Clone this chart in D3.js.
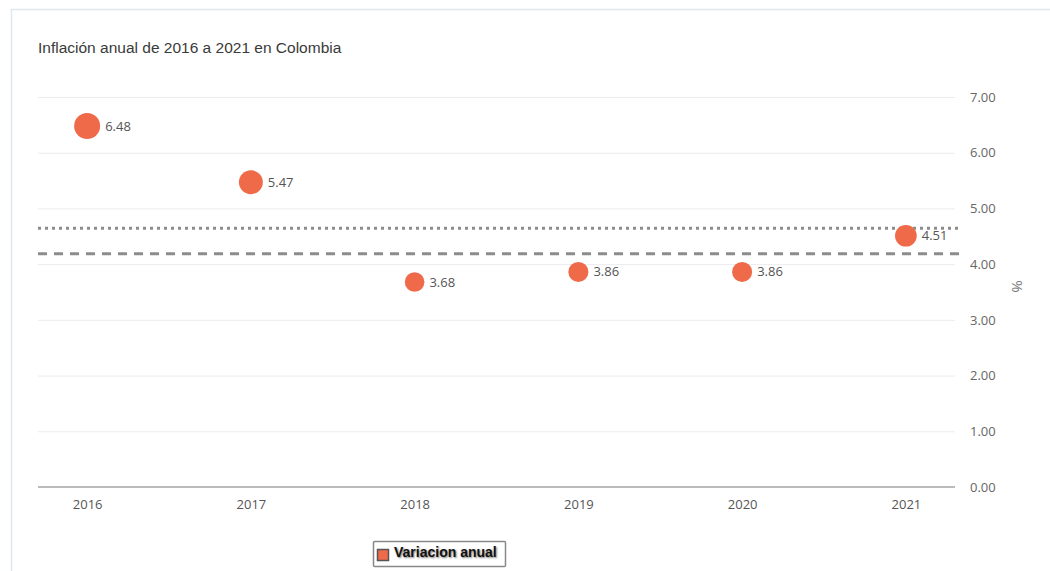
<!DOCTYPE html>
<html><head><meta charset="utf-8">
<script src="https://cdn.jsdelivr.net/npm/d3@7"></script>
<style>body{margin:0;background:#fff;font-family:"Segoe UI","Open Sans",sans-serif;}</style>
</head><body>
<svg id="c" width="1050" height="571"></svg>
<script>
const years = ["2016","2017","2018","2019","2020","2021"];
const inflation = [6.48, 5.47, 3.68, 3.86, 3.86, 4.51];
const yTicks = [0,1,2,3,4,5,6,7];
const title = "Inflación anual de 2016 a 2021 en Colombia";
const legendLabel = "Variacion anual";
const axisUnit = "%";

const svg = d3.select("#c");
const W = 1050, H = 571;
const pL = 38, pR = 955, pT = 97, pB = 487;

// frame (top and left edges only)
svg.append("path").attr("d", `M11.5,${H} L11.5,9.5 L${W},9.5`)
  .attr("fill","none").attr("stroke","#e1e7ee").attr("stroke-width",1.5);

svg.append("text").attr("x",38).attr("y",53).text(title)
  .attr("font-family","Arial, 'Liberation Sans', sans-serif").attr("font-size",15.5).attr("fill","#3a3a3a");

const x = d3.scalePoint().domain(years).range([pL,pR]).padding(0.3);
const y = d3.scaleLinear().domain([0,7]).range([pB,pT]);
const r = d3.scaleSqrt().domain([0,d3.max(inflation)]).range([0,13]);

// gridlines
svg.append("g").selectAll("line").data(yTicks.filter(d=>d>0)).join("line")
  .attr("x1",pL).attr("x2",pR).attr("y1",d=>y(d)+0.5).attr("y2",d=>y(d)+0.5)
  .attr("stroke","#ececf0").attr("stroke-width",1);

// y axis on right
const yAxis = svg.append("g").attr("transform",`translate(${pR},0)`)
  .call(d3.axisRight(y).tickValues(yTicks).tickFormat(d3.format(".2f")).tickSize(0).tickPadding(15));
yAxis.select(".domain").remove();
yAxis.selectAll("text").attr("font-family","'Segoe UI','Open Sans',sans-serif").attr("font-size",13).attr("fill","#666");

svg.append("text").attr("transform",`translate(1012,${y(3.6)}) rotate(90)`).attr("text-anchor","middle")
  .attr("font-family","'Segoe UI','Open Sans',sans-serif").attr("font-size",15).attr("fill","#777").text(axisUnit);

// x axis
const xAxis = svg.append("g").attr("transform",`translate(0,${pB})`)
  .call(d3.axisBottom(x).tickSize(0).tickPadding(13));
xAxis.select(".domain").attr("d",`M${pL},0H${pR}`).attr("stroke","#bbbbbb").attr("stroke-width",2);
xAxis.selectAll("text").attr("font-family","'Segoe UI','Open Sans',sans-serif").attr("font-size",13).attr("fill","#555");

// reference lines: mean (dotted) and median (dashed)
const meanV = d3.mean(inflation), medV = d3.median(inflation);
svg.append("line").attr("x1",pL).attr("x2",pR+4).attr("y1",y(meanV)).attr("y2",y(meanV))
  .attr("stroke","#8c8c8c").attr("stroke-width",3).attr("stroke-dasharray","3,4");
svg.append("line").attr("x1",pL).attr("x2",pR+4).attr("y1",y(medV)).attr("y2",y(medV))
  .attr("stroke","#8c8c8c").attr("stroke-width",3).attr("stroke-dasharray","9,7");

// points
svg.append("clipPath").attr("id","pc").append("rect")
  .attr("x",0).attr("y",0).attr("width",pR).attr("height",H);
const g = svg.append("g").attr("clip-path","url(#pc)");
const data = years.map((d,i)=>({year:d, v:inflation[i]}));
g.selectAll("circle").data(data).join("circle")
  .attr("cx",d=>x(d.year)).attr("cy",d=>y(d.v)).attr("r",d=>r(d.v))
  .attr("fill","#ef6a49");
g.selectAll("text.lbl").data(data).join("text").attr("class","lbl")
  .attr("x",d=>x(d.year)+r(d.v)+5).attr("y",d=>y(d.v)).attr("dy","0.35em")
  .attr("font-family","'Segoe UI','Open Sans',sans-serif").attr("font-size",13).attr("fill","#555")
  .text(d=>d.v.toFixed(2));

// legend
const lg = svg.append("g").attr("transform","translate(373,541)");
lg.append("rect").attr("x",0.5).attr("y",0.5).attr("width",132).attr("height",25)
  .attr("fill","#fff").attr("stroke","#888").attr("stroke-width",1.5).attr("rx",1);
lg.append("rect").attr("x",4.5).attr("y",8.5).attr("width",11).attr("height",11)
  .attr("fill","#ef6a49").attr("stroke","#555").attr("stroke-width",1.5);
lg.append("text").attr("x",21).attr("y",16).text(legendLabel)
  .attr("font-family","Arial, 'Liberation Sans', sans-serif").attr("font-weight","bold")
  .attr("font-size",14).attr("fill","#111").style("text-shadow","1px 1px 2px #777");
</script>
</body></html>
